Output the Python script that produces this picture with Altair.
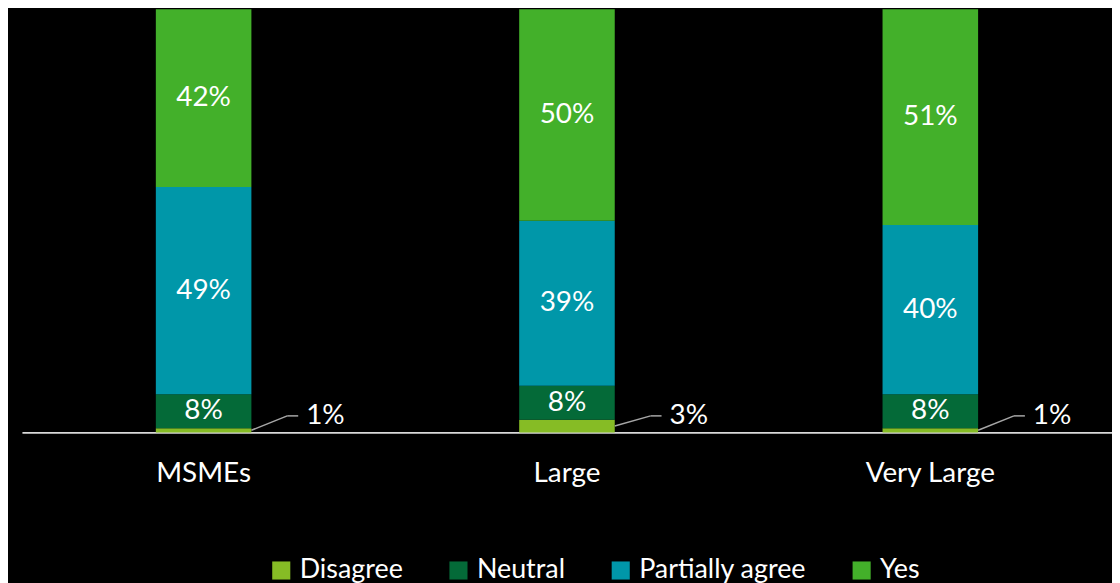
import altair as alt
import pandas as pd

categories = ["MSMEs", "Large", "Very Large"]
series = ["Disagree", "Neutral", "Partially agree", "Yes"]
disagree = [1, 3, 1]
neutral = [8, 8, 8]
partially = [49, 39, 40]
yes = [42, 50, 51]
colors = ["#86BC25", "#046A38", "#0097A9", "#43B02A"]

rows = []
for i, c in enumerate(categories):
    vals = [disagree[i], neutral[i], partially[i], yes[i]]
    cum = 0
    for s, v in zip(series, vals):
        rows.append(dict(cat=c, series=s, value=v, start=cum, end=cum + v,
                         mid=cum + v / 2, label=f"{v}%"))
        cum += v
df = pd.DataFrame(rows)

FONT = "Lato"
LABEL_LEVEL = 3.9

xenc = alt.X("cat:N", sort=categories,
             scale=alt.Scale(paddingInner=0.737, paddingOuter=0.3685),
             axis=alt.Axis(title=None, labelAngle=0, ticks=False, labelColor="white",
                           labelFontSize=28, labelFont=FONT, labelPadding=27,
                           domainColor="#D9D9D9", domainWidth=2, grid=False))
yscale = alt.Scale(domain=[0, 100])

base = alt.Chart(df)

bars = base.mark_bar().encode(
    x=xenc,
    y=alt.Y("start:Q", scale=yscale, axis=None),
    y2="end:Q",
    color=alt.Color("series:N", sort=series,
                    scale=alt.Scale(domain=series, range=colors),
                    legend=alt.Legend(title=None, orient="none", direction="horizontal",
                                      legendX=247, legendY=550,
                                      symbolType="square", symbolSize=330,
                                      symbolStrokeWidth=0, labelColor="white",
                                      labelFontSize=27, labelFont=FONT, labelLimit=400,
                                      labelOffset=5, columnPadding=42)),
)

inner = base.transform_filter(alt.datum.series != "Disagree").mark_text(
    color="white", fontSize=28, font=FONT, baseline="middle"
).encode(
    x=alt.X("cat:N", sort=categories),
    y=alt.Y("mid:Q", scale=yscale),
    text="label:N",
)

dis = base.transform_filter(alt.datum.series == "Disagree")

lead1 = dis.mark_rule(color="#A6A6A6", strokeWidth=1.5, xOffset=48, x2Offset=84).encode(
    x=alt.X("cat:N", sort=categories),
    x2="cat:N",
    y=alt.Y("mid:Q", scale=yscale),
    y2=alt.datum(LABEL_LEVEL),
)
lead2 = dis.mark_rule(color="#A6A6A6", strokeWidth=1.5, xOffset=84, x2Offset=95).encode(
    x=alt.X("cat:N", sort=categories),
    x2="cat:N",
    y=alt.Y(datum=LABEL_LEVEL, scale=yscale),
)
outer = dis.mark_text(color="white", fontSize=28, font=FONT, align="left",
                      baseline="middle", dx=103).encode(
    x=alt.X("cat:N", sort=categories),
    y=alt.Y(datum=LABEL_LEVEL, scale=yscale),
    text="label:N",
)

chart = alt.layer(bars, inner, lead1, lead2, outer).properties(
    width=1095, height=425,
    background="black",
    padding={"left": 14, "top": 0, "right": 0, "bottom": 150},
    autosize=alt.AutoSizeParams(type="none"),
).configure_view(stroke=None)

chart.save("out.html", embed_options={"renderer": "svg", "actions": False})
